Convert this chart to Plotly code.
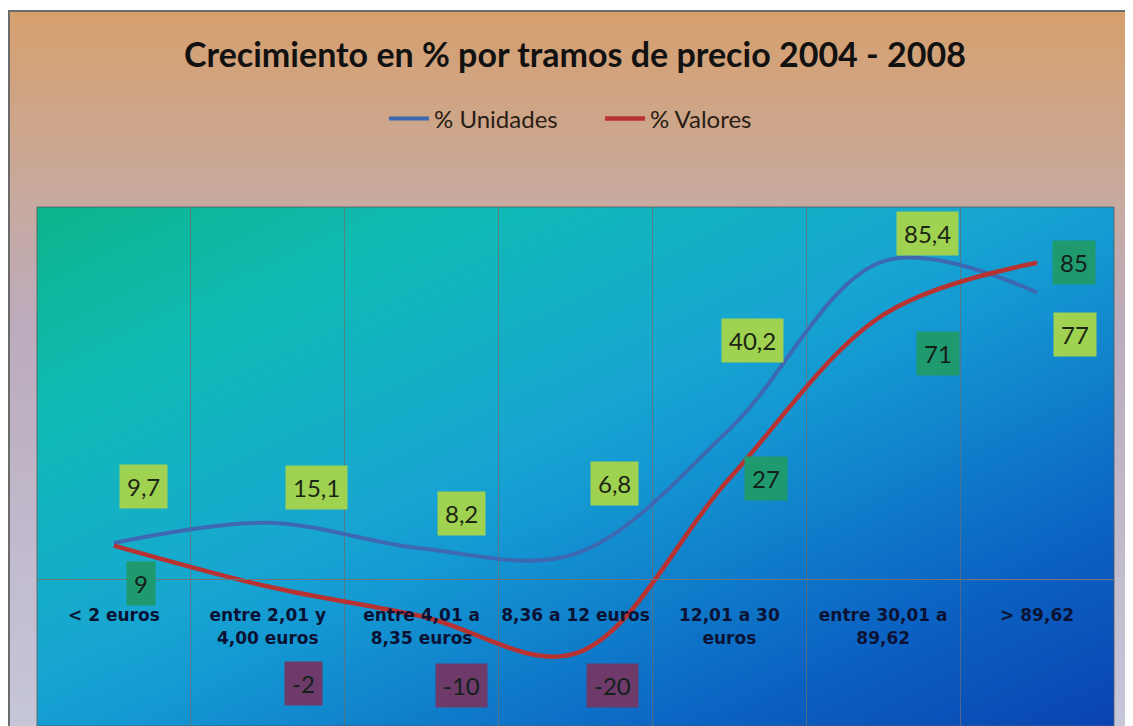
import base64
import struct
import zlib

import numpy as np
import plotly.graph_objects as go

# ---------------- data ----------------
categories = ["&lt; 2 euros", "entre 2,01 y<br>4,00 euros", "entre 4,01 a<br>8,35 euros",
              "8,36 a 12 euros", "12,01 a 30<br>euros", "entre 30,01 a<br>89,62", "&gt; 89,62"]
unidades = [9.7, 15.1, 8.2, 6.8, 40.2, 85.4, 77]
valores = [9, -2, -10, -20, 27, 71, 85]

# ---------------- styling / layout helpers ----------------
OFF = 8                      # browser body margin
W, H = 1133 - OFF, 726 - OFF
# plot area in page px: x 37..1114, y 207..726
ML, MT = 37 - OFF, 207 - OFF
MR, MB = W - (1114 - OFF), 0
PW, PH = W - ML - MR, H - MT - MB
YMIN, YMAX = -39.5, 100

# label offsets in px (dx right, dy down)
unid_off = [(30, -56), (49, -35), (40, -35), (39, -70), (23, -89), (44, -28), (38, 42)]
val_off = [(27, 38), (36, 97), (40, 69), (37, 32), (37, 0), (55, 39), (37, 0)]


def px_x(px):  # page px -> paper
    return (px - OFF - ML) / PW


def px_y(py):
    return (H - MB - (py - OFF)) / PH


def png_uri(arr):
    h, w, _ = arr.shape
    raw = b"".join(b"\x00" + arr[r].tobytes() for r in range(h))

    def chunk(t, d):
        c = struct.pack(">I", len(d)) + t + d
        return c + struct.pack(">I", zlib.crc32(t + d) & 0xFFFFFFFF)

    png = (b"\x89PNG\r\n\x1a\n"
           + chunk(b"IHDR", struct.pack(">IIBBBBB", w, h, 8, 2, 0, 0, 0))
           + chunk(b"IDAT", zlib.compress(raw, 9))
           + chunk(b"IEND", b""))
    return "data:image/png;base64," + base64.b64encode(png).decode()


def grad(t, stops, cols):
    cols = np.array(cols, dtype=float)
    out = np.stack([np.interp(t, stops, cols[:, k]) for k in range(3)], axis=-1)
    return np.clip(out, 0, 255).astype(np.uint8)


# plot-area diagonal gradient
gw, gh = 540, 260
u = np.linspace(0, 1, gw)[None, :]
v = np.linspace(0, 1, gh)[:, None]
t = (u + v) / 2
plot_img = grad(t, [0, 0.2, 0.45, 0.55, 0.8, 1.0],
                [(14, 180, 140), (16, 188, 182), (24, 166, 210), (20, 150, 210),
                 (12, 100, 195), (10, 68, 178)])

# outer chart-area vertical gradient (page px rows 10 -> 736)
oh = 400
rows = np.linspace(10, 736, oh)[:, None] * np.ones((1, 4))
outer_img = grad(rows, [10, 120, 200, 330, 736],
                 [(215, 160, 110), (206, 166, 138), (200, 170, 160), (188, 172, 190),
                  (198, 200, 218)])

fig = go.Figure()
fig.add_trace(go.Scatter(x=list(range(len(categories))), y=unidades, name="% Unidades",
                         mode="lines", line=dict(color="#3d68b2", width=4, shape="spline"),
                         hoverinfo="skip"))
fig.add_trace(go.Scatter(x=list(range(len(categories))), y=valores, name="% Valores",
                         mode="lines", line=dict(color="#b83232", width=4.5, shape="spline"),
                         hoverinfo="skip"))


def fmt(v):
    return f"{v:g}".replace(".", ",")


ann = []
for i, val in enumerate(unidades):
    dx, dy = unid_off[i]
    ann.append(dict(x=i, y=val, xref="x", yref="y", text=fmt(val), showarrow=False,
                    xshift=dx, yshift=-dy, bgcolor="#9fd250", borderpad=7,
                    font=dict(family="Lato", size=24, color="#1b2614")))
for i, val in enumerate(valores):
    dx, dy = val_off[i]
    bg = "#1f9a6e" if val >= 0 else "#6d3a6a"
    ann.append(dict(x=i, y=val, xref="x", yref="y", text=fmt(val), showarrow=False,
                    xshift=dx, yshift=-dy, bgcolor=bg, borderpad=7,
                    font=dict(family="Lato", size=24, color="#14201a")))

fig.update_layout(
    width=W, height=H,
    margin=dict(l=ML, r=MR, t=MT, b=MB, pad=0),
    paper_bgcolor="white",
    plot_bgcolor="rgba(0,0,0,0)",
    title=dict(text="Crecimiento en % por tramos de precio 2004 - 2008",
               x=(575 - OFF) / W, xref="container", xanchor="center",
               y=1 - (55 - OFF) / H, yref="container", yanchor="middle",
               font=dict(family="Lato", size=34, color="#111111", weight="bold")),
    legend=dict(orientation="h", x=px_x(384), xanchor="left", y=px_y(119), yanchor="middle",
                bgcolor="rgba(0,0,0,0)", font=dict(family="Lato", size=24, color="#2a1d14"),
                itemwidth=40, tracegroupgap=0, entrywidth=161, entrywidthmode="pixels"),
    annotations=ann,
    images=[
        dict(source=png_uri(outer_img), xref="paper", yref="paper",
             x=px_x(8), y=px_y(10), sizex=(1143 - 8) / PW, sizey=(736 - 10) / PH,
             xanchor="left", yanchor="top", sizing="stretch", layer="below"),
        dict(source=png_uri(plot_img), xref="paper", yref="paper",
             x=0, y=1, sizex=1, sizey=1,
             xanchor="left", yanchor="top", sizing="stretch", layer="below"),
    ],
    shapes=[
        dict(type="rect", xref="paper", yref="paper", x0=px_x(9), y0=px_y(760),
             x1=px_x(1160), y1=px_y(11), line=dict(color="#6b6b6b", width=2),
             fillcolor="rgba(0,0,0,0)", layer="above"),
        dict(type="rect", xref="paper", yref="paper", x0=0, y0=0, x1=1, y1=1,
             line=dict(color="rgba(80,90,90,0.8)", width=1),
             fillcolor="rgba(0,0,0,0)", layer="below"),
    ],
    showlegend=True,
)

fig.update_xaxes(type="category", range=[-0.5, 6.5], tickmode="array",
                 tickvals=list(range(len(categories))), ticktext=categories,
                 tickson="boundaries", showgrid=True, gridcolor="rgba(105,110,110,0.75)",
                 gridwidth=1, ticks="", anchor="free", position=(0 - YMIN) / (YMAX - YMIN),
                 showline=True, linecolor="rgb(112,116,116)", linewidth=1,
                 zeroline=False, automargin=False, ticklabelstandoff=21,
                 tickangle=0,
                 tickfont=dict(family="DejaVu Sans", size=17, color="#0b1233", weight="bold"),
                 fixedrange=True)
fig.update_yaxes(range=[YMIN, YMAX], showgrid=False, showticklabels=False,
                 zeroline=False, ticks="", automargin=False, fixedrange=True)

fig.write_html("out.html")
